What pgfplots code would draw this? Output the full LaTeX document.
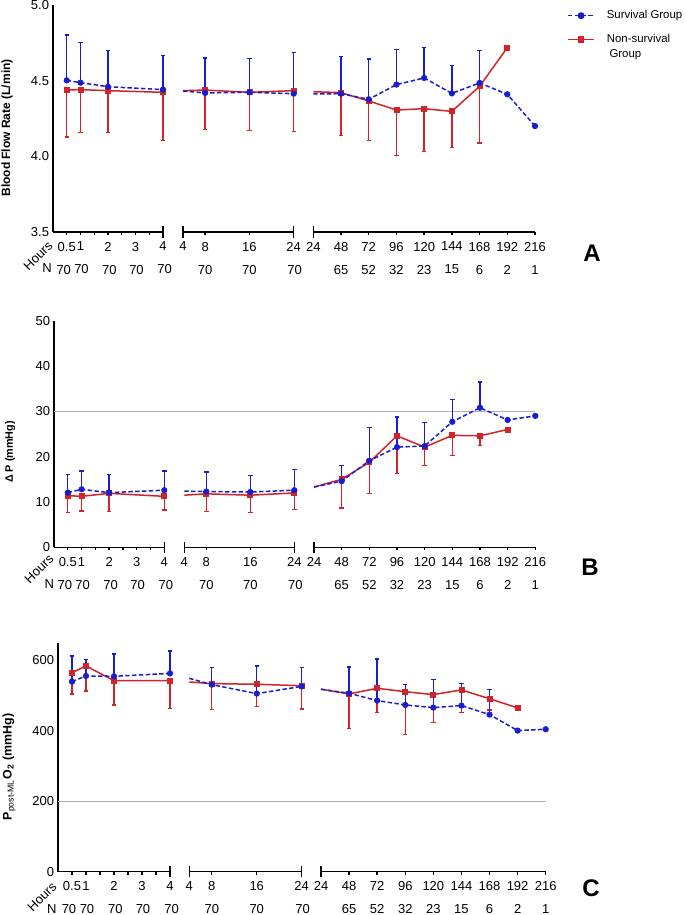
\documentclass[border=0pt]{standalone}
\usepackage{fontspec}
\setmainfont{Liberation Sans}
\usepackage{pgfplots}
\pgfplotsset{compat=1.18}
\definecolor{svblue}{RGB}{25,30,205}
\definecolor{nsred}{RGB}{210,35,40}
\definecolor{refgray}{RGB}{175,175,175}
\newcommand\tickfont{\fontsize{6.5}{11.5}\selectfont}
\newcommand\brk[1]{\draw[black, line width=0.7pt] (rel axis cs:#1,0) ++(0pt,-2.8pt) -- ++(0pt,5.6pt);}

\pgfplotsset{
  seg/.style={scale only axis, anchor=south west, clip=false,
    axis x line*=bottom, axis line style={-, line width=0.7pt, black},
    tick align=outside, major tick length=1.4pt,
    every tick/.style={black, line width=0.7pt},
    xticklabel style={font=\tickfont, align=center, inner sep=0pt, anchor=north, yshift=-3.4pt},
    yticklabel style={font=\tickfont, inner sep=0.4pt},
    /pgf/number format/assume math mode=true},
  first/.style={axis y line*=left, ytick style={draw=none}},
  rest/.style={hide y axis},
  sline/.style={svblue, line width=0.75pt, dash pattern=on 2.2pt off 1.2pt, mark=none, forget plot},
  nline/.style={nsred, line width=0.75pt, solid, mark=none, forget plot},
  smark/.style={svblue, only marks, mark=*, mark size=1.35pt, mark options={solid}, forget plot,
    error bars/.cd, y dir=plus, y explicit, error bar style={line width=0.7pt, solid},
    error mark options={line width=0.7pt, mark size=1.1pt, rotate=90}},
  nmark/.style={nsred, only marks, mark=square*, mark size=1.25pt, mark options={solid}, forget plot,
    error bars/.cd, y dir=minus, y explicit, error bar style={line width=0.7pt, solid},
    error mark options={line width=0.7pt, mark size=1.1pt, rotate=90}},
  sdot/.style={svblue, only marks, mark=*, mark size=1.35pt, forget plot},
  ndot/.style={nsred, only marks, mark=square*, mark size=1.25pt, forget plot},
  lgd/.style={legend style={draw=none, fill=none, inner sep=0pt, anchor=north west,
      font=\fontsize{5.7}{7}\selectfont, cells={anchor=west},
      nodes={inner sep=0pt, text height=4.1pt, text depth=1.2pt}, column sep=6pt, row sep=2.2pt},
    legend image code/.code={\draw[mark repeat=2,mark phase=2,##1] plot coordinates {(0pt,0pt) (6.5pt,0pt) (13pt,0pt)};}},
  s1/.style={xmin=0, xmax=4, xtick={0.5,1,1.5,2,2.5,3,3.5,4},
    xticklabels={{0.5\\70\hspace*{3pt}},{1\\\hspace*{1pt}70},{},{2\\\hspace*{1.4pt}70},{},{3\\\hspace*{1pt}70},{},{4\\\hspace*{1.6pt}70}}},
  s2/.style={xmin=4, xmax=24, xtick={4,8,16,24},
    xticklabels={{4},{8\\70},{16\\70},{24\\\hspace*{1pt}70}}},
  s3/.style={xmin=24, xmax=216, xtick={24,48,72,96,120,144,168,192,216},
    xticklabels={{24},{48\\65},{72\\52},{96\\32},{120\\23},{144\\15},{168\\6},{192\\2},{216\\1}}},
}

\begin{document}
\begin{tikzpicture}
\path[use as bounding box] (0,0) rectangle (342.5pt,-457.5pt);

% ---------------- Panel A: blood flow rate
\begin{axis}[seg, first, s1, at={(26.5pt,-116pt)}, width=55pt, height=113.5pt,
  ymin=3.5, ymax=5, ytick={3.5,4,4.5,5},
  yticklabel style={/pgf/number format/.cd, fixed, fixed zerofill, precision=1}]
\addplot[nline] coordinates {(0.5,4.438) (1,4.441) (2,4.434) (4,4.423)};
\addplot[sline] coordinates {(0.5,4.502) (1,4.487) (2,4.460) (4,4.441)};
\addplot[nmark] coordinates {(0.5,4.438) +- (0,0.31) (1,4.441) +- (0,0.285) (2,4.434) +- (0,0.278) (4,4.423) +- (0,0.32)};
\addplot[smark] coordinates {(0.5,4.502) +- (0,0.30) (1,4.487) +- (0,0.264) (2,4.460) +- (0,0.24) (4,4.441) +- (0,0.224)};
\brk{1}
\end{axis}

\begin{axis}[seg, rest, s2, lgd, at={(91.5pt,-116pt)}, width=55.35pt, height=113.5pt,
  ymin=3.5, ymax=5, legend style={at={(3.469,0.874)}}]
\addlegendimage{nsred, line width=0.75pt, solid, mark=square*, mark size=1.25pt}
\addlegendentry{Non-survival}
\addlegendimage{empty legend}
\addlegendentry{\hspace{1.3pt}Group}
\addplot[nline] coordinates {(4,4.434) (8,4.438) (16,4.423) (24,4.434)};
\addplot[sline] coordinates {(4,4.432) (8,4.419) (16,4.423) (24,4.414)};
\addplot[nmark] coordinates {(8,4.438) +- (0,0.262) (16,4.423) +- (0,0.253) (24,4.434) +- (0,0.269)};
\addplot[smark] coordinates {(8,4.419) +- (0,0.231) (16,4.423) +- (0,0.222) (24,4.414) +- (0,0.273)};
\brk{0}\brk{1}
\end{axis}

\begin{axis}[seg, rest, s3, lgd, at={(156.65pt,-116pt)}, width=110.85pt, height=113.5pt,
  ymin=3.5, ymax=5, legend style={at={(1.144,0.978)}}]
\addlegendimage{svblue, line width=0.75pt, dash pattern=on 2.2pt off 1.2pt, mark=*, mark size=1.35pt, mark options={solid}}
\addlegendentry{Survival Group}
\addplot[nline] coordinates {(24,4.427) (48,4.421) (72,4.366) (96,4.306) (120,4.315) (144,4.297) (168,4.463) (192,4.718)};
\addplot[sline] coordinates {(24,4.412) (48,4.414) (72,4.377) (96,4.474) (120,4.518) (144,4.416) (168,4.485) (192,4.410) (216,4.200)};
\addplot[nmark] coordinates {(48,4.421) +- (0,0.282) (72,4.366) +- (0,0.262) (96,4.306) +- (0,0.302)
  (120,4.315) +- (0,0.282) (144,4.297) +- (0,0.240) (168,4.463) +- (0,0.375)};
\addplot[ndot] coordinates {(192,4.718)};
\addplot[smark] coordinates {(48,4.414) +- (0,0.247) (72,4.377) +- (0,0.266) (96,4.474) +- (0,0.233)
  (120,4.518) +- (0,0.200) (144,4.416) +- (0,0.185) (168,4.485) +- (0,0.215)};
\addplot[sdot] coordinates {(192,4.410) (216,4.200)};
\brk{0}
\end{axis}

% ---------------- Panel B: delta P
\begin{axis}[seg, first, s1, at={(27pt,-273.65pt)}, width=55.15pt, height=113.3pt,
  ymin=0, ymax=50, ytick={0,10,20,30,40,50}]
\draw[refgray, line width=0.45pt] (axis cs:0,30) -- ++(240.65pt,0pt);
\addplot[nline] coordinates {(0.5,11.4) (1,11.25) (2,11.9) (4,11.25)};
\addplot[sline] coordinates {(0.5,12.06) (1,12.8) (2,12.06) (4,12.6)};
\addplot[nmark] coordinates {(0.5,11.4) +- (0,3.7) (1,11.25) +- (0,3.25) (2,11.9) +- (0,4.0) (4,11.25) +- (0,3.05)};
\addplot[smark] coordinates {(0.5,12.06) +- (0,4.04) (1,12.8) +- (0,4.0) (2,12.06) +- (0,4.04) (4,12.6) +- (0,4.2)};
\brk{1}
\end{axis}

\begin{axis}[seg, rest, s2, at={(92.15pt,-273.65pt)}, width=55pt, height=113.3pt,
  ymin=0, ymax=50]
\addplot[nline] coordinates {(4,11.5) (8,11.8) (16,11.5) (24,12.0)};
\addplot[sline] coordinates {(4,12.4) (8,12.3) (16,12.2) (24,12.6)};
\addplot[nmark] coordinates {(8,11.8) +- (0,3.9) (16,11.5) +- (0,3.8) (24,12.0) +- (0,3.6)};
\addplot[smark] coordinates {(8,12.3) +- (0,4.3) (16,12.2) +- (0,3.6) (24,12.6) +- (0,4.6)};
\brk{0}\brk{1}
\end{axis}

\begin{axis}[seg, rest, s3, at={(157pt,-273.65pt)}, width=110.65pt, height=113.3pt,
  ymin=0, ymax=50]
\addplot[nline] coordinates {(24,13.3) (48,15.0) (72,18.75) (96,24.6) (120,22.1) (144,24.7) (168,24.6) (192,26.0)};
\addplot[sline] coordinates {(24,13.3) (48,14.6) (72,19.1) (96,22.1) (120,22.35) (144,27.7) (168,30.8) (192,28.1) (216,29.0)};
\addplot[nmark] coordinates {(48,15.0) +- (0,6.3) (72,18.75) +- (0,6.85) (96,24.6) +- (0,8.3)
  (120,22.1) +- (0,4.1) (144,24.7) +- (0,4.4) (168,24.6) +- (0,2.2)};
\addplot[ndot] coordinates {(192,26.0)};
\addplot[smark] coordinates {(48,14.6) +- (0,3.5) (72,19.1) +- (0,7.4) (96,22.1) +- (0,6.65)
  (120,22.35) +- (0,5.25) (144,27.7) +- (0,4.9) (168,30.8) +- (0,5.7)};
\addplot[sdot] coordinates {(192,28.1) (216,29.0)};
\brk{0}
\end{axis}

% ---------------- Panel C: post-ML pO2
\begin{axis}[seg, first, s1, at={(29pt,-435.85pt)}, width=56pt, height=114.5pt,
  ymin=0, ymax=650, ytick={0,200,400,600}]
\draw[refgray, line width=0.45pt] (axis cs:0,200) -- ++(243.85pt,0pt);
\addplot[nline] coordinates {(0.5,565) (1,584) (2,542.4) (4,542.4)};
\addplot[sline] coordinates {(0.5,539.5) (1,555.6) (2,554.6) (4,563)};
\addplot[nmark] coordinates {(0.5,565) +- (0,60.4) (1,584) +- (0,71) (2,542.4) +- (0,69) (4,542.4) +- (0,79.4)};
\addplot[smark] coordinates {(0.5,539.5) +- (0,72.8) (1,555.6) +- (0,47.3) (2,554.6) +- (0,63.4) (4,563) +- (0,63.5)};
\brk{1}
\end{axis}

\begin{axis}[seg, rest, s2, at={(94.65pt,-435.85pt)}, width=56.2pt, height=114.5pt,
  ymin=0, ymax=650]
\addplot[nline] coordinates {(4,538.6) (8,534) (16,532) (24,528)};
\addplot[sline] coordinates {(4,549) (8,531) (16,505.5) (24,526)};
\addplot[nmark] coordinates {(8,534) +- (0,74) (16,532) +- (0,62.4) (24,528) +- (0,66)};
\addplot[smark] coordinates {(8,531) +- (0,48) (16,505.5) +- (0,78.5) (24,526) +- (0,54)};
\brk{0}\brk{1}
\end{axis}

\begin{axis}[seg, rest, s3, at={(160.5pt,-435.85pt)}, width=112.35pt, height=114.5pt,
  ymin=0, ymax=650]
\addplot[nline] coordinates {(24,518) (48,504.6) (72,520.6) (96,511) (120,502.7) (144,516) (168,491) (192,465)};
\addplot[sline] coordinates {(24,518) (48,506.5) (72,485.7) (96,473.4) (120,465.8) (144,471.5) (168,446) (192,400.6) (216,404.4)};
\addplot[nmark] coordinates {(48,504.6) +- (0,97.6) (72,520.6) +- (0,68) (96,511) +- (0,121)
  (120,502.7) +- (0,78.7) (144,516) +- (0,63.4) (168,491) +- (0,32)};
\addplot[ndot] coordinates {(192,465)};
\addplot[smark] coordinates {(48,506.5) +- (0,74.5) (72,485.7) +- (0,118) (96,473.4) +- (0,57.6)
  (120,465.8) +- (0,79.2) (144,471.5) +- (0,63.5) (168,446) +- (0,71.8)};
\addplot[sdot] coordinates {(192,400.6) (216,404.4)};
\brk{0}
\end{axis}

% ---------------- labels
\node[rotate=90, font=\fontsize{6}{7}\selectfont\bfseries] at (3.5pt,-64pt) {Blood Flow Rate (L/min)};
\node[rotate=90, font=\fontsize{5.4}{6.5}\selectfont\bfseries] at (5pt,-226pt) {Δ P (mmHg)};
\node[rotate=90, font=\fontsize{6.2}{7}\selectfont\bfseries] at (4.5pt,-383.5pt) {P\textsubscript{\mdseries post-ML}O\textsubscript{2} (mmHg)};

\node[rotate=45, font=\tickfont] at (19pt,-128pt) {Hours};
\node[font=\tickfont] at (23.5pt,-134pt) {N};
\node[rotate=45, font=\tickfont] at (19.5pt,-284.5pt) {Hours};
\node[font=\tickfont] at (24.65pt,-292.15pt) {N};
\node[rotate=45, font=\tickfont] at (21pt,-448.5pt) {Hours};
\node[font=\tickfont] at (25.85pt,-454.65pt) {N};

\node[font=\fontsize{12}{14}\selectfont\bfseries] at (296pt,-126.5pt) {A};
\node[font=\fontsize{12}{14}\selectfont\bfseries] at (295pt,-283.5pt) {B};
\node[font=\fontsize{12}{14}\selectfont\bfseries] at (295.5pt,-444pt) {C};
\end{tikzpicture}
\end{document}
